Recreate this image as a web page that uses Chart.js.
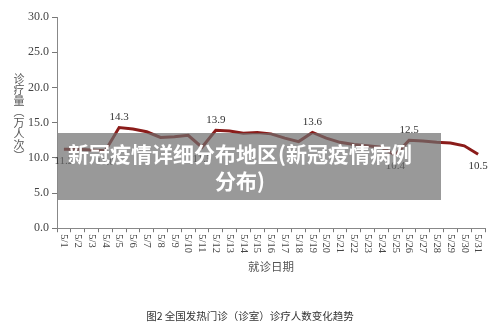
<!DOCTYPE html>
<html>
<head>
<meta charset="utf-8">
<script src="https://cdn.jsdelivr.net/npm/chart.js@4"></script>
<style>
  html, body { margin: 0; padding: 0; background: #fff; }
  #wrap { width: 500px; height: 335px; position: relative; }
</style>
</head>
<body>
<div id="wrap"><canvas id="lineChart" width="500" height="335"></canvas></div>
<script>
const dates = ['5/1', '5/2', '5/3', '5/4', '5/5', '5/6', '5/7', '5/8', '5/9', '5/10',
  '5/11', '5/12', '5/13', '5/14', '5/15', '5/16', '5/17', '5/18', '5/19', '5/20',
  '5/21', '5/22', '5/23', '5/24', '5/25', '5/26', '5/27', '5/28', '5/29', '5/30', '5/31'];
const visits = [11.2, 11.2, 11.1, 11.0, 14.3, 14.1, 13.7, 12.9, 13.0, 13.2,
  11.5, 13.9, 13.8, 13.5, 13.6, 13.4, 12.8, 12.3, 13.6, 12.8,
  12.2, 11.9, 11.7, 11.5, 10.4, 12.5, 12.4, 12.2, 12.1, 11.7, 10.5];
// which points carry a value label, and where
const labelAbove = [4, 11, 18, 25];
const labelBelow = [0, 3, 10, 24, 30];
const yTicks = [0, 5, 10, 15, 20, 25, 30];

const yTitle = ['诊', '疗', '量', '︵', '万', '人', '次', '︶'];
const xTitle = '就诊日期';
const caption = '图2 全国发热门诊（诊室）诊疗人数变化趋势';
const overlayLines = ['新冠疫情详细分布地区(新冠疫情病例', '分布)'];

const serif = '"Liberation Serif", "DejaVu Serif", serif';
const cjk = '"Noto Sans CJK SC", "Noto Sans", sans-serif';

const extras = {
  id: 'extras',
  afterDraw(chart) {
    const c = chart.ctx;
    const xs = chart.scales.x;
    const ys = chart.scales.y;
    c.save();

    // x tick labels, turned clockwise
    c.fillStyle = '#444';
    c.font = '10.5px ' + serif;
    c.textAlign = 'left';
    c.textBaseline = 'middle';
    dates.forEach((d, i) => {
      const px = xs.getPixelForValue(i);
      c.save();
      c.translate(px, ys.bottom + 6);
      c.rotate(Math.PI / 2);
      c.fillText(d, 0, 0);
      c.restore();
    });

    // value labels
    c.fillStyle = '#333';
    c.font = '11px ' + serif;
    c.textAlign = 'center';
    labelAbove.forEach(i => {
      c.textBaseline = 'bottom';
      c.fillText(visits[i].toFixed(1), xs.getPixelForValue(i), ys.getPixelForValue(visits[i]) - 5);
    });
    labelBelow.forEach(i => {
      c.textBaseline = 'top';
      c.fillText(visits[i].toFixed(1), xs.getPixelForValue(i), ys.getPixelForValue(visits[i]) + 6);
    });

    // y title, stacked characters
    c.fillStyle = '#555';
    c.font = '11px ' + cjk;
    c.textBaseline = 'middle';
    yTitle.forEach((ch, k) => {
      c.fillText(ch, 19, 79 + k * 11);
    });

    // x title
    c.font = '11.5px ' + cjk;
    c.fillText(xTitle, (xs.left + xs.right) / 2, 267);

    // caption
    c.fillStyle = '#333';
    c.font = '10.5px ' + cjk;
    c.fillText(caption, 250, 316);

    // grey overlay with white heading
    c.fillStyle = 'rgba(110,110,110,0.7)';
    c.fillRect(58, 133, 383, 67);
    c.fillStyle = '#fff';
    c.font = 'bold 21px ' + cjk;
    c.fillText(overlayLines[0], 240, 154);
    c.fillText(overlayLines[1], 240, 181);

    c.restore();
  }
};

new Chart(document.getElementById('lineChart').getContext('2d'), {
  type: 'line',
  data: {
    labels: dates,
    datasets: [{
      data: visits,
      borderColor: '#8b1c1a',
      borderWidth: 3,
      pointRadius: 0,
      tension: 0,
      fill: false
    }]
  },
  options: {
    responsive: false,
    animation: false,
    layout: { padding: { left: 25, right: 15, top: 17, bottom: 85 } },
    plugins: {
      legend: { display: false },
      tooltip: { enabled: false }
    },
    scales: {
      x: {
        offset: true,
        grid: { display: true, drawOnChartArea: false, drawTicks: true, tickLength: 4, color: '#777', offset: true },
        border: { display: true, color: '#888', width: 1 },
        ticks: { color: 'rgba(0,0,0,0)', font: { size: 10, family: serif }, maxRotation: 90, minRotation: 90, padding: 0, autoSkip: false }
      },
      y: {
        min: 0,
        max: 30,
        afterBuildTicks: axis => { axis.ticks = yTicks.map(v => ({ value: v })); },
        grid: { display: true, drawOnChartArea: false, drawTicks: true, tickLength: 5, color: '#777' },
        border: { display: true, color: '#888', width: 1 },
        ticks: { color: '#444', font: { size: 12, family: serif }, padding: 3, callback: v => Number(v).toFixed(1) }
      }
    }
  },
  plugins: [extras]
});
</script>
</body>
</html>
